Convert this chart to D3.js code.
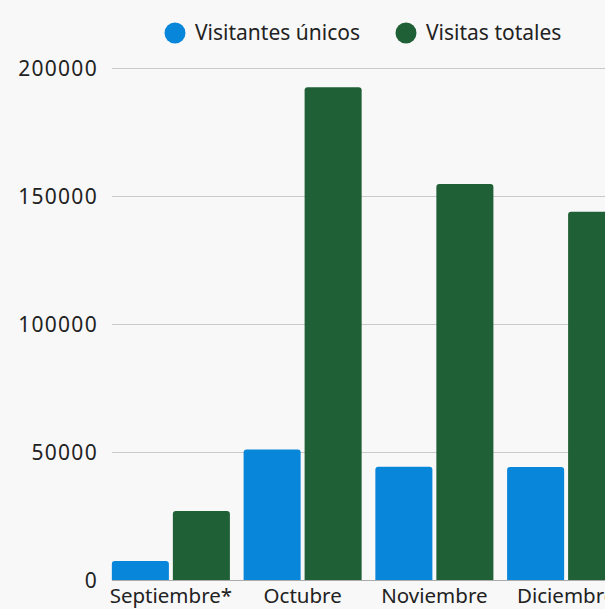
<!DOCTYPE html>
<html>
<head>
<meta charset="utf-8">
<script src="https://cdn.jsdelivr.net/npm/d3@7"></script>
<style>
  html, body { margin: 0; padding: 0; background: #f8f8f8; overflow: hidden; }
  svg { display: block; font-family: "Noto Sans", "Open Sans", sans-serif; }
</style>
</head>
<body>
<svg id="chart" width="605" height="609"></svg>
<script>
const categories = ["Septiembre*", "Octubre", "Noviembre", "Diciembre"];
const seriesNames = ["Visitantes únicos", "Visitas totales"];
const uniqueVisitors = [7400, 51000, 44200, 44100];
const totalVisits = [27000, 192500, 154700, 143800];
const yTicks = [0, 50000, 100000, 150000, 200000];
const colors = ["#0886d9", "#206037"];

const svg = d3.select("#chart");
const W = 605, H = 609;
const y0 = 580, yTop = 68;

svg.append("rect").attr("width", W).attr("height", H).attr("fill", "#f8f8f8");

const y = d3.scaleLinear().domain([0, 200000]).range([y0, yTop]);
const x0 = d3.scaleBand().domain(categories).range([105, 632]).paddingInner(0.104).paddingOuter(0.052);
const x1 = d3.scaleBand().domain(seriesNames).range([0, x0.bandwidth()]).paddingInner(0.065);

// gridlines
const grid = svg.append("g");
grid.selectAll("line").data(yTicks.filter(d => d > 0)).join("line")
  .attr("x1", 112).attr("x2", W)
  .attr("y1", d => y(d) + 0.5).attr("y2", d => y(d) + 0.5)
  .attr("stroke", "#cacaca").attr("stroke-width", 1);

// y axis labels
const yAxis = d3.axisLeft(y).tickValues(yTicks).tickSize(0).tickPadding(0).tickFormat(d => String(d));
const ya = svg.append("g").attr("transform", "translate(98,0)").call(yAxis);
ya.select(".domain").remove();
ya.selectAll("text").attr("font-size", 21).attr("fill", "#222").attr("font-family", "Noto Sans")
  .attr("letter-spacing", "1.3px").attr("dy", "0.35em");

// bars
const data = categories.map((c, i) => ({ cat: c, vals: [uniqueVisitors[i], totalVisits[i]] }));
function roundTop(x, yy, w, h, r) {
  r = Math.min(r, h, w / 2);
  return `M${x},${yy + h}V${yy + r}Q${x},${yy} ${x + r},${yy}H${x + w - r}Q${x + w},${yy} ${x + w},${yy + r}V${yy + h}Z`;
}
const groups = svg.append("g").selectAll("g").data(data).join("g")
  .attr("transform", d => `translate(${x0(d.cat)},0)`);
groups.selectAll("path").data(d => d.vals.map((v, j) => ({ v, s: seriesNames[j], j }))).join("path")
  .attr("d", d => roundTop(x1(d.s), y(d.v), x1.bandwidth(), y0 - y(d.v), 3))
  .attr("fill", d => colors[d.j]);

// baseline
svg.append("line").attr("x1", 112).attr("x2", W).attr("y1", y0 + 0.5).attr("y2", y0 + 0.5)
  .attr("stroke", "#aaaaaa").attr("stroke-width", 1);

// x axis labels
const xAxis = d3.axisBottom(x0).tickSize(0).tickPadding(0);
const xa = svg.append("g").attr("transform", `translate(0,${y0})`).call(xAxis);
xa.select(".domain").remove();
xa.selectAll("text").attr("font-size", 20.5).attr("fill", "#222").attr("font-family", "Noto Sans").attr("dy", "1.1em");

// legend
const legendItems = [
  { name: seriesNames[0], color: colors[0], cx: 175, tx: 195 },
  { name: seriesNames[1], color: colors[1], cx: 406, tx: 426 }
];
const lg = svg.append("g");
lg.selectAll("circle").data(legendItems).join("circle")
  .attr("cx", d => d.cx).attr("cy", 33).attr("r", 10.5).attr("fill", d => d.color);
lg.selectAll("text").data(legendItems).join("text")
  .attr("x", d => d.tx).attr("y", 33).attr("dy", "0.35em")
  .attr("font-size", 21).attr("fill", "#222").text(d => d.name);
</script>
</body>
</html>
